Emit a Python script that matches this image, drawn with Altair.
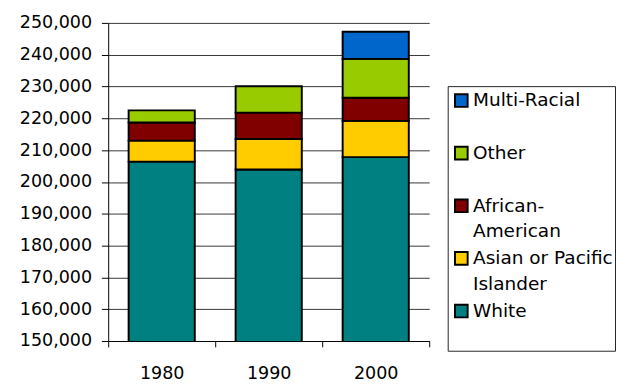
import altair as alt
import pandas as pd

years = ["1980", "1990", "2000"]
races = ["White", "Asian or Pacific Islander", "African-American", "Other", "Multi-Racial"]
colors = ["#008080", "#FFCC00", "#800000", "#99CC00", "#0066CC"]

white = [206400, 203900, 207800]
asian = [6600, 9600, 11400]
african = [5700, 8300, 7300]
other = [3800, 8300, 12200]
multi = [0, 0, 8500]

legend_order = ["Multi-Racial", "Other", "African-American", "Asian or Pacific Islander", "White"]
legend_labels = ["Multi-Racial", "Other", "African-\nAmerican", "Asian or Pacific\nIslander", "White"]

y_ticks = list(range(150000, 250001, 10000))

series = [white, asian, african, other, multi]
rows = []
for i, (race, vals) in enumerate(zip(races, series)):
    for yr, v in zip(years, vals):
        if v > 0:
            rows.append({"year": yr, "race": race, "value": v, "idx": i})
df = pd.DataFrame(rows)

FONT = "DejaVu Sans"
color_scale = alt.Scale(domain=races, range=colors)

main = alt.Chart(df).mark_bar(size=68, stroke="black", strokeWidth=2, clip=True).encode(
    x=alt.X("year:N", sort=years,
            scale=alt.Scale(paddingInner=0, paddingOuter=0),
            axis=alt.Axis(title=None, labelAngle=0, tickBand="extent", tickSize=6,
                          labelPadding=19, labelFontSize=18, labelFont=FONT, labelColor="black",
                          grid=False, domainColor="black", tickColor="black")),
    y=alt.Y("value:Q", stack="zero",
            scale=alt.Scale(domain=[150000, 250000], zero=False, nice=False),
            axis=alt.Axis(values=y_ticks, format=",d", title=None, tickSize=7,
                          labelPadding=10, labelFontSize=18, labelFont=FONT, labelColor="black",
                          grid=True, gridColor="black", gridOpacity=0.8,
                          domainColor="black", tickColor="black")),
    color=alt.Color("race:N", scale=color_scale, legend=None),
    order=alt.Order("idx:Q"),
).properties(width=330, height=327, view=alt.ViewBackground(stroke="transparent"))

leg_df = pd.DataFrame({"race": legend_order, "label": legend_labels})
leg_base = alt.Chart(leg_df).encode(
    y=alt.Y("race:N", sort=legend_order,
            scale=alt.Scale(type="point", padding=0.514, align=0.266), axis=None)
)
squares = leg_base.mark_square(size=169, stroke="black", strokeWidth=2, opacity=1).encode(
    x=alt.value(14),
    color=alt.Color("race:N", scale=color_scale, legend=None),
)
texts = leg_base.mark_text(align="left", baseline="top", dy=-9, fontSize=19, lineHeight=26,
                           lineBreak="\n", font=FONT, color="black").encode(
    x=alt.value(26),
    text="label:N",
)
legend = (squares + texts).properties(
    width=172, height=272,
    view=alt.ViewBackground(stroke="#222", strokeWidth=1),
)

spacer = alt.Chart(leg_df.head(1)).mark_point(opacity=0).encode(
    x=alt.value(0), y=alt.value(0)
).properties(width=172, height=63, view=alt.ViewBackground(stroke="transparent"))

legend_col = alt.vconcat(spacer, legend, spacing=0)

chart = alt.hconcat(main, legend_col, spacing=14).resolve_scale(y="independent").properties(
    padding={"left": 11, "top": 0, "right": 0, "bottom": 0}
)

chart.save("out.html", embed_options={"renderer": "svg", "actions": False})
